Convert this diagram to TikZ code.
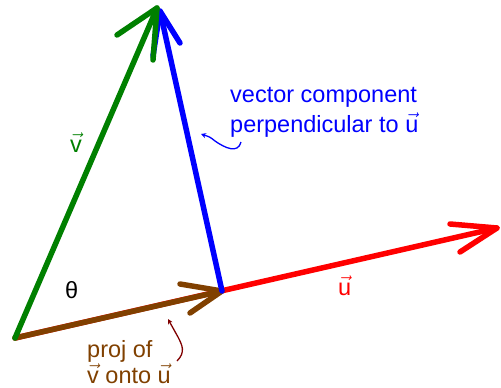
\documentclass[tikz,border=0pt]{standalone}
\usepackage{fontspec}
\setmainfont{Liberation Sans}
\usepackage{amsmath}
\usetikzlibrary{arrows.meta}
\definecolor{vgreen}{RGB}{0,128,0}
\definecolor{ublue}{RGB}{0,0,255}
\definecolor{ured}{RGB}{255,0,0}
\definecolor{pbrown}{RGB}{128,64,0}
\definecolor{pdark}{RGB}{128,0,0}
\newcommand{\vv}[1]{$\vec{\mbox{#1}}$}
\begin{document}
\begin{tikzpicture}[x=1pt,y=-1pt,
  vecline/.style={line width=5.5pt,line cap=round,line join=round},
  pointer/.style={line width=1.3pt,-{Stealth[length=5pt,width=5pt]}},
  lbl/.style={anchor=base west,inner sep=0pt,font=\fontsize{23.5}{28}\selectfont}]
\useasboundingbox (0,0) rectangle (501,388);
% key points
\coordinate (O) at (15,338);
\coordinate (P) at (222,291);
\coordinate (V) at (157,8);
\coordinate (U) at (497,228);
% red u
\draw[vecline,ured] (O) -- (U);
\draw[vecline,ured] (450,224) -- (U) -- (460,252);
% brown projection
\draw[vecline,pbrown] (O) -- (P);
\draw[vecline,pbrown] (180,284) -- (P) -- (190,313);
% blue perpendicular
\draw[vecline,ublue] (P) -- (160,11);
\draw[vecline,ublue] (180,43) -- (160,11) -- (153,56);
% green v
\draw[vecline,vgreen] (O) -- (V);
\draw[vecline,vgreen] (117,35) -- (V) -- (153,60);
% labels
\node[lbl,text=vgreen] (lv) at (70,152) {\vv{v}};
\node[lbl] (lth) at (65,298) {θ};
\node[lbl,text=ured] (lu) at (338,295) {\vv{u}};
\node[lbl,text=ublue] (lperp1) at (230,102) {vector component};
\node[lbl,text=ublue] (lperp2) at (230,132) {perpendicular to \vv{u}};
\node[lbl,text=pbrown] (lproj1) at (87,357) {proj of};
\node[lbl,text=pbrown] (lproj2) at (87,383) {\vv{v} onto \vv{u}};
% pointers
\coordinate (b0) at (241,142);
\coordinate (b1) at (201,134);
\draw[pointer,ublue] (b0) .. controls (238,154) and (225,148) .. (215,141) .. controls (210,137) .. (b1);
\coordinate (r0) at (177,361);
\coordinate (r1) at (168,319);
\draw[pointer,pdark] (r0) .. controls (186,352) and (182,345) .. (178,337) .. controls (174,330) .. (r1);
\end{tikzpicture}
\end{document}
